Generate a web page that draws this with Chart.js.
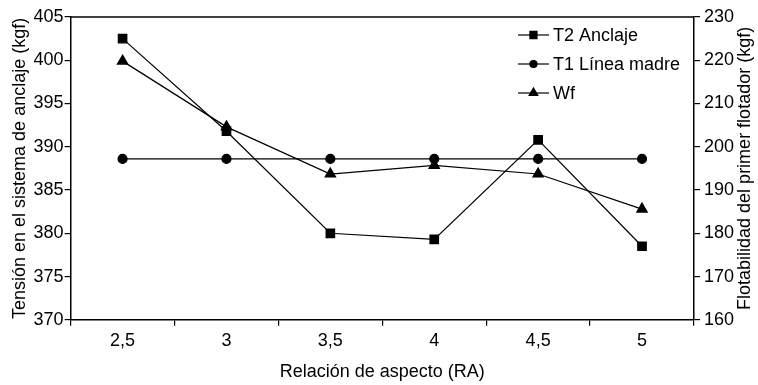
<!DOCTYPE html>
<html>
<head>
<meta charset="utf-8">
<script src="https://cdn.jsdelivr.net/npm/chart.js@4"></script>
<style>
  html, body { margin: 0; padding: 0; background: #fff; }
  #wrap { width: 758px; height: 385px; }
</style>
</head>
<body>
<div id="wrap"><canvas id="chart" width="758" height="385"></canvas></div>
<script>
// Data
const categories = ['2,5', '3', '3,5', '4', '4,5', '5'];
const t2Anclaje = [402.5, 391.8, 380.0, 379.3, 390.8, 378.5];   // left axis
const t1LineaMadre = [388.6, 388.6, 388.6, 388.6, 388.6, 388.6]; // left axis
const wf = [219.8, 204.6, 193.7, 195.7, 193.7, 185.6];           // right axis

const FONT = "'Liberation Sans Narrow', 'Liberation Sans', Arial, sans-serif";
const rightTitle = 'Flotabilidad del primer flotador (kgf)';

// legend inside the plot, top frame line and right axis title (reads bottom-up)
const extras = {
    id: 'extras',
    afterDraw(chart) {
        const ctx = chart.ctx;
        const area = chart.chartArea;
        ctx.save();
        ctx.strokeStyle = '#000';
        ctx.lineWidth = 1.5;
        ctx.beginPath();
        ctx.moveTo(area.left, area.top);
        ctx.lineTo(area.right, area.top);
        ctx.stroke();

        const x0 = area.right - 176;
        chart.data.datasets.forEach((ds, i) => {
            const y = area.top + 18 + i * 29;
            ctx.strokeStyle = '#000';
            ctx.lineWidth = 1.2;
            ctx.beginPath();
            ctx.moveTo(x0, y);
            ctx.lineTo(x0 + 31, y);
            ctx.stroke();
            Chart.helpers.drawPoint(ctx, {
                pointStyle: ds.pointStyle,
                radius: ds.pointRadius - 1,
                rotation: 0,
                borderWidth: 1
            }, x0 + 15.5, y);
            ctx.fillStyle = '#000';
            ctx.font = '18px ' + FONT;
            ctx.textBaseline = 'middle';
            ctx.textAlign = 'left';
            ctx.fillText(ds.label, x0 + 35, y + 1);
        });

        ctx.translate(chart.width - 13, (area.top + area.bottom) / 2);
        ctx.rotate(-Math.PI / 2);
        ctx.font = '18px ' + FONT;
        ctx.textAlign = 'center';
        ctx.textBaseline = 'middle';
        ctx.fillText(rightTitle, 0, 0);
        ctx.restore();
    }
};

const ctx = document.getElementById('chart').getContext('2d');
new Chart(ctx, {
    type: 'line',
    data: {
        labels: categories,
        datasets: [
            {
                label: 'T2 Anclaje',
                data: t2Anclaje,
                yAxisID: 'y',
                borderColor: '#000',
                backgroundColor: '#000',
                borderWidth: 1.2,
                pointStyle: 'rect',
                pointRadius: 6,
                fill: false
            },
            {
                label: 'T1 Línea madre',
                data: t1LineaMadre,
                yAxisID: 'y',
                borderColor: '#000',
                backgroundColor: '#000',
                borderWidth: 1.2,
                pointStyle: 'circle',
                pointRadius: 4.5,
                fill: false
            },
            {
                label: 'Wf',
                data: wf,
                yAxisID: 'y1',
                borderColor: '#000',
                backgroundColor: '#000',
                borderWidth: 1.2,
                pointStyle: 'triangle',
                pointRadius: 6,
                fill: false
            }
        ]
    },
    options: {
        responsive: false,
        animation: false,
        layout: { padding: { top: 17, right: 20, left: 9, bottom: 2 } },
        plugins: {
            legend: { display: false },
            tooltip: { enabled: false }
        },
        scales: {
            x: {
                offset: true,
                grid: {
                    display: true,
                    offset: true,
                    drawOnChartArea: false,
                    color: '#000',
                    tickLength: 6,
                    lineWidth: 1.2
                },
                border: { color: '#000', width: 1.5 },
                ticks: {
                    color: '#000',
                    font: { family: FONT, size: 18 },
                    padding: 4
                },
                title: {
                    display: true,
                    text: 'Relación de aspecto (RA)',
                    color: '#000',
                    font: { family: FONT, size: 18 },
                    padding: { top: 6, bottom: 0 }
                }
            },
            y: {
                position: 'left',
                min: 370,
                max: 405,
                grid: {
                    drawOnChartArea: false,
                    color: '#000',
                    tickLength: 6,
                    lineWidth: 1.2
                },
                border: { color: '#000', width: 1.5 },
                ticks: {
                    stepSize: 5,
                    color: '#000',
                    font: { family: FONT, size: 18 },
                    padding: 1
                },
                title: {
                    display: true,
                    text: 'Tensión en el sistema de anclaje (kgf)',
                    color: '#000',
                    font: { family: FONT, size: 18 },
                    padding: { top: 0, bottom: 2 }
                }
            },
            y1: {
                position: 'right',
                min: 160,
                max: 230,
                grid: {
                    drawOnChartArea: false,
                    color: '#000',
                    tickLength: 6,
                    lineWidth: 1.2
                },
                border: { color: '#000', width: 1.5 },
                ticks: {
                    stepSize: 10,
                    color: '#000',
                    font: { family: FONT, size: 18 },
                    padding: 4
                },
                title: { display: false }
            }
        }
    },
    plugins: [extras]
});
</script>
</body>
</html>
